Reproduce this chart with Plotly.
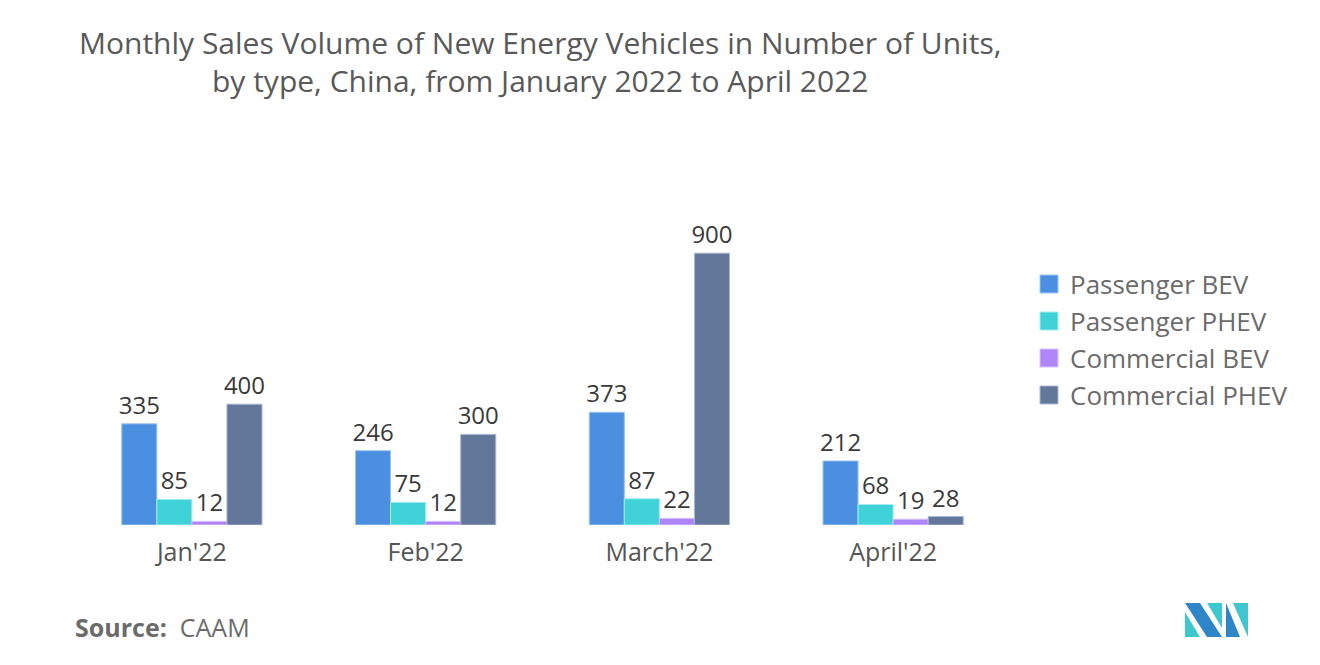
import plotly.graph_objects as go

categories = ["Jan'22", "Feb'22", "March'22", "April'22"]
passenger_bev = [335, 246, 373, 212]
passenger_phev = [85, 75, 87, 68]
commercial_bev = [12, 12, 22, 19]
commercial_phev = [400, 300, 900, 28]

series = [
    ("Passenger BEV", passenger_bev, "#4A8FE0", "#9cc4f0"),
    ("Passenger PHEV", passenger_phev, "#3FD3D9", "#a4ecee"),
    ("Commercial BEV", commercial_bev, "#B085FA", "#d6c0fc"),
    ("Commercial PHEV", commercial_phev, "#63779B", "#a9b7d6"),
]

FONT = "Open Sans"
OFF = 8  # page margin offset
W, H = 1312, 657
L, R, T, B = 67, 310, 192, 140
PW, PH = W - L - R, H - T - B


def pp(sx, sy):
    """screenshot pixel -> paper coords"""
    return (sx - OFF - L) / PW, (H - B - (sy - OFF)) / PH


fig = go.Figure()
for name, vals, col, edge in series:
    fig.add_trace(go.Bar(
        name=name, x=categories, y=vals,
        marker=dict(color=col, line=dict(color=edge, width=1)),
        text=[str(v) for v in vals], textposition="outside",
        textfont=dict(size=24, color="#3a3a3a", family=FONT),
        cliponaxis=False, showlegend=False,
    ))

fig.update_layout(
    width=W, height=H,
    margin=dict(l=L, r=R, t=T, b=B, autoexpand=False),
    paper_bgcolor="white", plot_bgcolor="white",
    barmode="group", bargap=0.4, bargroupgap=0,
    uniformtext=dict(minsize=24, mode="show"),
    font=dict(family=FONT, color="#595959"),
    xaxis=dict(showgrid=False, showline=False, ticks="", ticklabelstandoff=10,
               tickfont=dict(size=25, color="#555555", family=FONT)),
    yaxis=dict(range=[0, 1076], visible=False, showgrid=False),
)

# Title
for txt, sy in [("Monthly Sales Volume of New Energy Vehicles in Number of Units,", 42),
                ("by type, China, from January 2022 to April 2022", 80)]:
    x, y = pp(540, sy)
    fig.add_annotation(text=txt, xref="paper", yref="paper", x=x, y=y,
                       xanchor="center", yanchor="middle", showarrow=False,
                       font=dict(size=30, color="#595959", family=FONT))

# Legend (manual)
for i, (name, vals, col, edge) in enumerate(series):
    cy = 284 + 37 * i
    x0, y0 = pp(1040, cy + 9)
    x1, y1 = pp(1058, cy - 9)
    fig.add_shape(type="rect", xref="paper", yref="paper", x0=x0, y0=y0, x1=x1, y1=y1,
                  fillcolor=col, line=dict(color=edge, width=1))
    tx, ty = pp(1068, cy)
    fig.add_annotation(text=name, xref="paper", yref="paper", x=tx, y=ty,
                       xanchor="left", yanchor="middle", showarrow=False,
                       font=dict(size=26, color="#6b6b6b", family=FONT))

# Source
sx, sy = pp(73, 627)
fig.add_annotation(
    text="<b>Source:</b>  CAAM", xref="paper", yref="paper", x=sx, y=sy,
    xanchor="left", yanchor="middle", showarrow=False,
    font=dict(size=25, color="#6b6b6b", family=FONT),
)


def path(pts):
    s = ""
    for i, (x, y) in enumerate(pts):
        X, Y = pp(x, y)
        s += ("M" if i == 0 else "L") + f"{X:.5f},{Y:.5f} "
    return s + "Z"


logo = [
    ([(1185, 612), (1185, 637), (1200, 637)], "#3FC7D0"),
    ([(1185, 603), (1200, 603), (1222, 637), (1207, 637)], "#2E86C8"),
    ([(1207, 603), (1222, 603), (1222, 628)], "#3FC7D0"),
    ([(1226, 603), (1226, 637), (1240, 637)], "#2E86C8"),
    ([(1233, 603), (1248, 603), (1248, 637)], "#3FC7D0"),
]
for pts, col in logo:
    fig.add_shape(type="path", path=path(pts), xref="paper", yref="paper",
                  fillcolor=col, line=dict(width=0))

fig.write_html("out.html")
